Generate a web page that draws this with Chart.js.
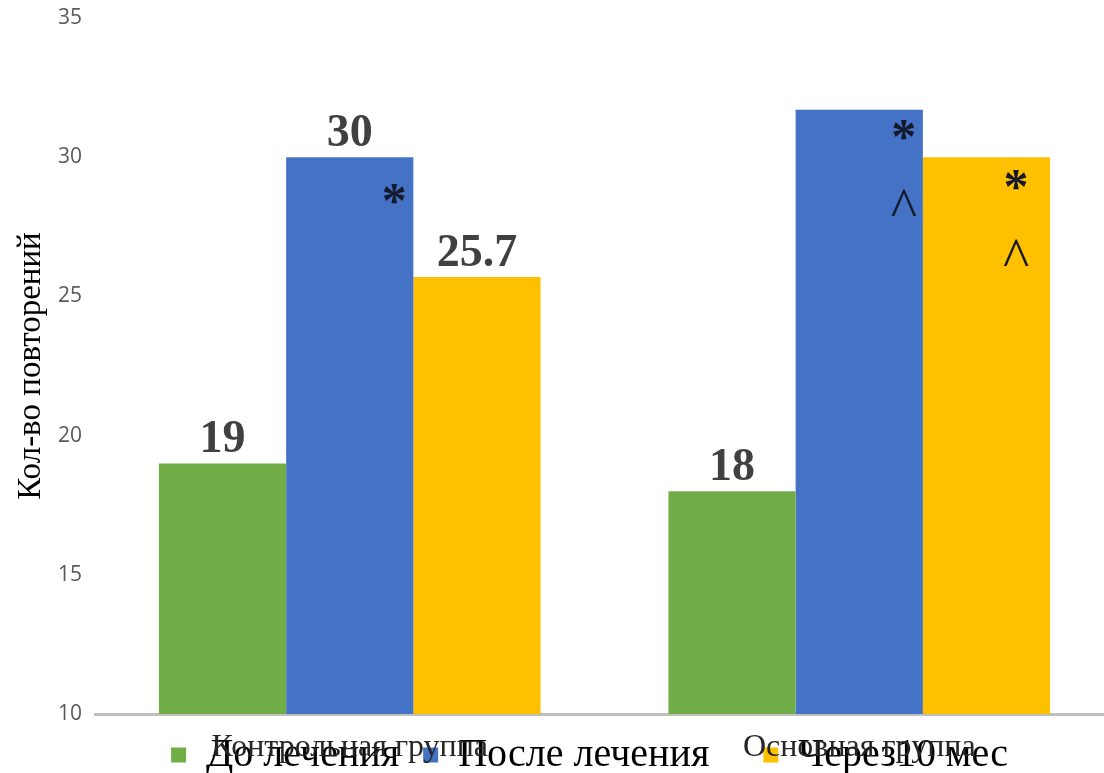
<!DOCTYPE html>
<html>
<head>
<meta charset="utf-8">
<script src="https://cdn.jsdelivr.net/npm/chart.js@4.4.0/dist/chart.umd.min.js"></script>
<style>
  html, body { margin: 0; padding: 0; background: #fff; overflow: hidden; }
  #wrap { width: 1114px; height: 773px; }
</style>
</head>
<body>
<div id="wrap"><canvas id="chart"></canvas></div>
<script>
const GROUPS = ["Контрольная группа", "Основная группа"];
const SERIES = ["До лечения", "После лечения", "Через10 мес"];
const BEFORE = [19, 18];
const AFTER = [30, 31.7];
const MONTHS10 = [25.7, 30];
const COLORS = ["#70ad47", "#4472c4", "#ffc000"];
const Y_TICKS = [10, 15, 20, 25, 30, 35];
// value labels shown above bars (null = none)
const VALUE_LABELS = [["19", "18"], ["30", null], ["25.7", null]];
// significance marks: [series, group, symbol, y value where the mark sits]
const MARKS = [
  [1, 0, "*", 28.5],
  [1, 1, "*", 30.8],
  [1, 1, "^", 28.2],
  [2, 1, "*", 29.0],
  [2, 1, "^", 26.4]
];

const serif = "'Liberation Serif', 'Times New Roman', serif";

const barLabels = {
  id: 'barLabels',
  afterLayout(chart){
    // let the category names spill below the thin x axis box (they overlap the legend, as in the source)
    chart.scales.x.bottom = chart.height;
    const lg = chart.legend;
    lg.top += 12; lg.bottom += 12;
  },
  afterDatasetsDraw(chart){
    const ctx = chart.ctx;
    const y = chart.scales.y;
    ctx.save();
    ctx.textAlign = 'center';
    VALUE_LABELS.forEach((row, di)=>{
      const meta = chart.getDatasetMeta(di);
      row.forEach((txt, i)=>{
        if(!txt) return;
        const bar = meta.data[i];
        ctx.font = 'bold 46px ' + serif;
        ctx.fillStyle = '#404040';
        ctx.textBaseline = 'alphabetic';
        ctx.fillText(txt, bar.x, bar.y - 11);
      });
    });
    MARKS.forEach(([di, i, sym, val])=>{
      const bar = chart.getDatasetMeta(di).data[i];
      const cx = bar.x + bar.width/2 - (di === 2 ? 34 : 19);
      ctx.fillStyle = '#141a2c';
      ctx.textBaseline = 'middle';
      if(sym === '*'){
        ctx.font = 'bold 50px ' + serif;
        ctx.fillText(sym, cx, y.getPixelForValue(val) + 5);
      } else {
        ctx.font = '56px ' + serif;
        ctx.fillText(sym, cx, y.getPixelForValue(val) + 5);
      }
    });
    ctx.restore();
  }
};

new Chart(document.getElementById('chart').getContext('2d'), {
  type: 'bar',
  data: {
    labels: GROUPS,
    datasets: [
      { label: SERIES[0] + '  ', data: BEFORE, backgroundColor: COLORS[0] },
      { label: SERIES[1] + '     ', data: AFTER, backgroundColor: COLORS[1] },
      { label: SERIES[2] + '   ', data: MONTHS10, backgroundColor: COLORS[2] }
    ]
  },
  options: {
    responsive: true,
    maintainAspectRatio: false,
    animation: false,
    layout: { padding: { top: 18, left: 0, right: 0, bottom: 0 } },
    datasets: { bar: { categoryPercentage: 0.749, barPercentage: 1 } },
    scales: {
      x: {
        grid: { display: false, drawTicks: false },
        border: { display: true, color: '#bfbfbf', width: 3 },
        ticks: { font: { family: serif, size: 32 }, color: '#262626', padding: 14 },
        afterFit: s => { s.height = 5; s.paddingLeft = 0; s.paddingRight = 0; }
      },
      y: {
        min: 10, max: 35,
        afterBuildTicks: s => { s.ticks = Y_TICKS.map(v=>({value: v})); },
        grid: { display: false, drawTicks: false },
        border: { display: false },
        ticks: { font: { family: "'Open Sans', sans-serif", size: 21 }, color: '#595959', padding: 13 },
        title: {
          display: true, text: 'Кол-во повторений',
          font: { family: serif, size: 33 }, color: '#000', padding: { top: 12, bottom: 0 }
        },
        afterFit: s => { s.width = 95; s.paddingTop = 0; s.paddingBottom = 0; }
      }
    },
    plugins: {
      legend: {
        position: 'bottom',
        fullSize: false,
        labels: {
          font: { family: serif, size: 40, lineHeight: 1 },
          color: '#000', boxWidth: 15, boxHeight: 15, padding: 4
        }
      },
      tooltip: { enabled: false }
    }
  },
  plugins: [barLabels]
});
</script>
</body>
</html>
